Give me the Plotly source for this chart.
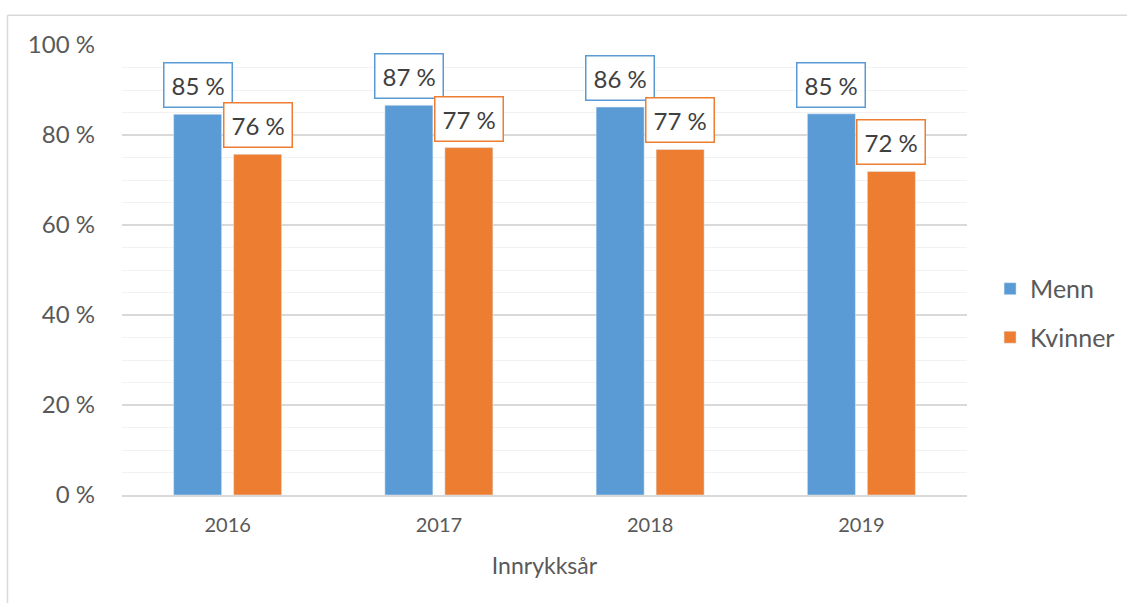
import plotly.graph_objects as go

years = ["2016", "2017", "2018", "2019"]
menn = [84.6, 86.6, 86.2, 84.7]
kvinner = [75.7, 77.2, 76.8, 71.9]
menn_labels = ["85 %", "87 %", "86 %", "85 %"]
kvinner_labels = ["76 %", "77 %", "77 %", "72 %"]
y_ticks = [0, 20, 40, 60, 80, 100]
y_ticktext = ["0 %", "20 %", "40 %", "60 %", "80 %", "100 %"]

BLUE = "#5B9BD5"
ORANGE = "#ED7D31"
TXT = "#595959"
FONT = "Lato"

xpos = list(range(len(years)))

fig = go.Figure()
fig.add_trace(go.Bar(x=xpos, y=menn, name="Menn", marker_color=BLUE,
                     legendgroup="m"))
fig.add_trace(go.Bar(x=xpos, y=kvinner, name="Kvinner", marker_color=ORANGE,
                     legendgroup="k"))

for ys, labs, col, shift in [(menn, menn_labels, BLUE, -30),
                             (kvinner, kvinner_labels, ORANGE, 30)]:
    for x, y, t in zip(xpos, ys, labs):
        fig.add_annotation(x=x, y=y, text=t, showarrow=False,
                           xshift=shift, yshift=6, yanchor="bottom",
                           font=dict(family=FONT, size=24, color="#404040"),
                           bordercolor=col, borderwidth=1.5, borderpad=7,
                           bgcolor="white")

# outer chart border
fig.add_shape(type="line", xref="paper", yref="paper",
              x0=-0.1355, x1=1.2, y0=1.066, y1=1.066,
              line=dict(color="#D9D9D9", width=1.5))
fig.add_shape(type="line", xref="paper", yref="paper",
              x0=-0.1355, x1=-0.1355, y0=1.066, y1=-0.25,
              line=dict(color="#D9D9D9", width=1.5))

fig.update_layout(
    width=1127, height=603,
    margin=dict(l=122, r=160, t=45, b=108),
    paper_bgcolor="white", plot_bgcolor="white",
    barmode="group", bargap=0.432, bargroupgap=0.2,
    font=dict(family=FONT, color=TXT),
    legend=dict(x=0.8785, y=0.481, xref="container", yref="container",
                xanchor="left", yanchor="middle",
                font=dict(size=25, color=TXT), tracegroupgap=13,
                itemclick=False),
    showlegend=True,
    xaxis=dict(
        range=[-0.5, 3.5], tickvals=xpos, ticktext=years,
        showgrid=False, showline=True, linecolor="#D9D9D9", linewidth=1.5,
        zeroline=False,
        tickfont=dict(size=20, color=TXT), ticklabelstandoff=11,
        title=dict(text="Innrykksår", font=dict(size=23, color=TXT), standoff=23),
    ),
    yaxis=dict(
        range=[0, 100], tickvals=y_ticks, ticktext=y_ticktext,
        showgrid=True, gridcolor="#D9D9D9", gridwidth=1.5,
        zeroline=False, showline=False,
        tickfont=dict(size=24, color=TXT), ticklabelstandoff=26,
        minor=dict(dtick=5, showgrid=True, gridcolor="#F2F2F2", gridwidth=1.2),
    ),
)

fig.write_html("out.html", config={"displayModeBar": False},
               post_script="document.body.style.margin='0';document.body.style.overflow='hidden';")
